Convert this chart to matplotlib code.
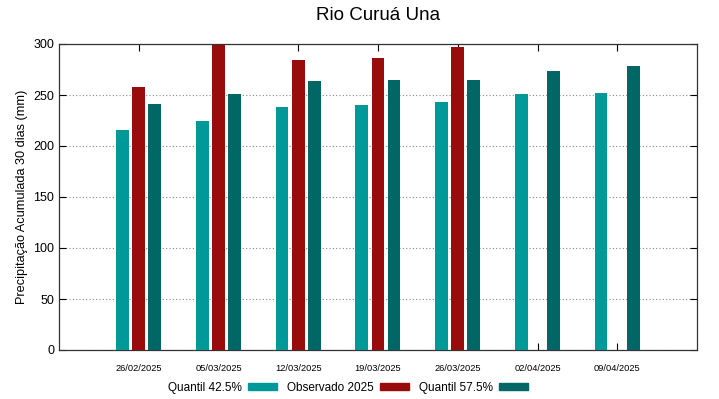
import matplotlib
matplotlib.use('Agg')
import numpy as np
import matplotlib.pyplot as plt
from matplotlib.patches import Rectangle

plt.rcParams['font.family'] = ['Liberation Sans', 'DejaVu Sans']

# data
datas = ['26/02/2025', '05/03/2025', '12/03/2025', '19/03/2025',
         '26/03/2025', '02/04/2025', '09/04/2025']
q425 = [216, 225, 238, 240, 243, 251, 252]
obs2025 = [258, 299, 284, 286, 297, np.nan, np.nan]
q575 = [241, 251, 264, 265, 265, 274, 278]

c_q425 = '#009999'
c_obs = '#990c0c'
c_q575 = '#006666'

x = np.arange(len(datas))
w = 0.16

fig = plt.figure(figsize=(7.19, 3.99), dpi=100)
ax = fig.add_axes([59/719, 1 - 350/399, (697-59)/719, (350-44)/399])

ax.bar(x - 0.205, q425, w, color=c_q425, zorder=3)
ax.bar(x, obs2025, w, color=c_obs, zorder=3)
ax.bar(x + 0.2, q575, w, color=c_q575, zorder=3)

ax.set_xlim(-1, 7)
ax.set_ylim(0, 300)
ax.set_yticks(range(0, 301, 50))
ax.set_xticks(x)
ax.set_xticklabels(datas, fontsize=6.7)
ax.tick_params(axis='y', labelsize=9, direction='in', right=True, length=5)
ax.tick_params(axis='x', direction='in', top=True, length=5, pad=10)
ax.yaxis.grid(True, linestyle=(0, (1, 2)), color='#888888', linewidth=0.8)
for s in ax.spines.values():
    s.set_linewidth(0.9)
    s.set_color('#333333')

ax.set_ylabel('Precipitação Acumulada 30 dias (mm)', fontsize=9.2)
fig.text(378/719, 1 - 15/399, 'Rio Curuá Una', ha='center', va='center', fontsize=13.5)

handles = [Rectangle((0, 0), 1, 1, color=c) for c in (c_q425, c_obs, c_q575)]
fig.legend(handles, ['Quantil 42.5%', 'Observado 2025', 'Quantil 57.5%'],
           loc='center', bbox_to_anchor=(348/719, 1 - 388/399), ncol=3,
           frameon=False, markerfirst=False, fontsize=8.5,
           handlelength=2.45, handleheight=0.5, columnspacing=0.85, handletextpad=0.5)

fig.savefig('out.png', dpi=100)
